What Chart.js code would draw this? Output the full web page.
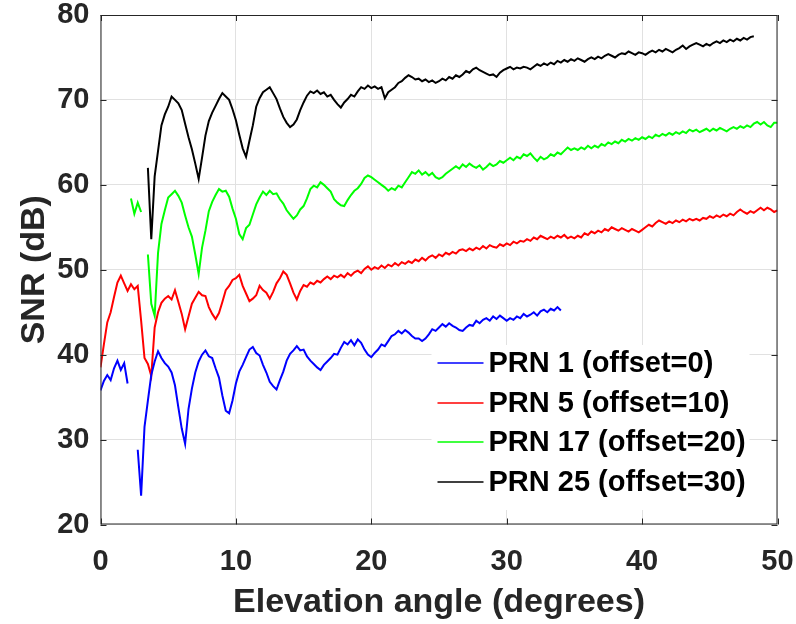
<!DOCTYPE html>
<html>
<head>
<meta charset="utf-8">
<script src="https://cdn.jsdelivr.net/npm/chart.js@4.4.1/dist/chart.umd.min.js"></script>
<style>
  html, body { margin: 0; padding: 0; background: #fff; }
  #snr { display: block; }
</style>
</head>
<body>
<canvas id="snr" width="796" height="624"></canvas>
<script>
// elevation grid (degrees), one sample every 0.25 deg
const elevation = [
  0, 0.25, 0.5, 0.75, 1, 1.25, 1.5, 1.75, 2, 2.25, 2.5, 2.75, 3, 3.25, 3.5, 3.75, 4, 4.25, 4.5, 4.75,
  5, 5.25, 5.5, 5.75, 6, 6.25, 6.5, 6.75, 7, 7.25, 7.5, 7.75, 8, 8.25, 8.5, 8.75, 9, 9.25, 9.5, 9.75,
  10, 10.25, 10.5, 10.75, 11, 11.25, 11.5, 11.75, 12, 12.25, 12.5, 12.75, 13, 13.25, 13.5, 13.75, 14, 14.25, 14.5, 14.75,
  15, 15.25, 15.5, 15.75, 16, 16.25, 16.5, 16.75, 17, 17.25, 17.5, 17.75, 18, 18.25, 18.5, 18.75, 19, 19.25, 19.5, 19.75,
  20, 20.25, 20.5, 20.75, 21, 21.25, 21.5, 21.75, 22, 22.25, 22.5, 22.75, 23, 23.25, 23.5, 23.75, 24, 24.25, 24.5, 24.75,
  25, 25.25, 25.5, 25.75, 26, 26.25, 26.5, 26.75, 27, 27.25, 27.5, 27.75, 28, 28.25, 28.5, 28.75, 29, 29.25, 29.5, 29.75,
  30, 30.25, 30.5, 30.75, 31, 31.25, 31.5, 31.75, 32, 32.25, 32.5, 32.75, 33, 33.25, 33.5, 33.75, 34, 34.25, 34.5, 34.75,
  35, 35.25, 35.5, 35.75, 36, 36.25, 36.5, 36.75, 37, 37.25, 37.5, 37.75, 38, 38.25, 38.5, 38.75, 39, 39.25, 39.5, 39.75,
  40, 40.25, 40.5, 40.75, 41, 41.25, 41.5, 41.75, 42, 42.25, 42.5, 42.75, 43, 43.25, 43.5, 43.75, 44, 44.25, 44.5, 44.75,
  45, 45.25, 45.5, 45.75, 46, 46.25, 46.5, 46.75, 47, 47.25, 47.5, 47.75, 48, 48.25, 48.5, 48.75, 49, 49.25, 49.5, 49.75, 50
];

// SNR (dB) per satellite, already offset; null = no track
const prn1 = [
  35.8, 36.9, 37.6, 37.0, 38.4, 39.3, 38.2, 39.0, 36.6, null, null, 28.8, 23.4, 31.5, 34.6, 37.6, 39.2, 40.4, 39.6, 39.0,
  38.6, 37.9, 36.4, 33.8, 31.3, 29.5, 33.6, 36.0, 37.9, 39.2, 40.0, 40.5, 39.8, 39.6, 38.4, 37.3, 35.2, 33.4, 33.1, 34.6,
  36.6, 38.0, 38.8, 39.7, 40.6, 40.9, 40.2, 39.9, 38.8, 37.9, 36.8, 36.3, 35.9, 37.0, 38.0, 39.3, 40.1, 40.5, 41.0, 40.5,
  40.6, 39.8, 39.3, 38.9, 38.5, 38.2, 38.8, 39.2, 39.6, 40.1, 40.0, 40.8, 41.5, 41.2, 41.7, 41.1, 41.8, 41.4, 40.6, 40.0,
  39.7, 40.2, 40.6, 41.2, 41.0, 41.6, 42.2, 42.4, 42.8, 42.5, 42.9, 42.6, 42.2, 41.9, 41.9, 41.6, 41.9, 42.4, 43.0, 42.8,
  43.2, 43.6, 43.3, 43.7, 43.4, 43.2, 42.9, 42.8, 43.2, 43.5, 43.4, 44.0, 43.7, 44.1, 44.3, 44.0, 44.5, 44.2, 44.6, 44.3,
  44.0, 44.3, 44.1, 44.5, 44.3, 44.8, 44.5, 44.7, 45.0, 44.6, 45.1, 45.3, 45.0, 45.4, 45.2, 45.6, 45.2
];
const prn5 = [
  38.5, 41.2, 43.8, 45.0, 46.8, 48.5, 49.3, 48.4, 47.5, 48.3, 47.7, 48.1, 44.0, 39.6, 38.9, 37.5, 43.2, 45.0, 46.1, 46.6,
  46.9, 46.5, 47.6, 46.2, 44.8, 43.0, 44.5, 46.0, 46.7, 47.4, 47.0, 46.9, 45.6, 44.8, 44.2, 44.9, 46.2, 47.6, 48.1, 48.8,
  49.0, 49.4, 48.1, 47.2, 46.3, 46.6, 47.0, 48.1, 47.6, 47.3, 46.6, 47.4, 48.4, 49.0, 49.8, 49.4, 48.4, 47.3, 46.5, 47.5,
  48.2, 48.0, 48.5, 48.3, 48.7, 48.5, 48.9, 49.2, 48.9, 49.3, 49.1, 49.4, 49.1, 49.6, 49.3, 49.7, 49.9, 49.6, 50.1, 50.4,
  50.0, 50.3, 50.1, 50.5, 50.2, 50.6, 50.4, 50.8, 50.5, 50.9, 50.7, 51.0, 50.8, 51.2, 51.0, 51.4, 51.1, 51.5, 51.7, 51.4,
  51.8, 51.6, 52.0, 51.8, 52.1, 51.9, 52.3, 52.4, 52.2, 52.5, 52.3, 52.6, 52.4, 52.8, 52.5, 52.9, 52.7, 52.6, 53.0, 52.8,
  53.1, 52.9, 53.3, 53.1, 53.4, 53.3, 53.6, 53.4, 53.8, 53.6, 54.0, 53.8, 53.6, 53.9, 53.7, 54.0, 53.8, 54.1, 53.7, 53.9,
  53.7, 54.0, 53.8, 54.3, 54.1, 54.5, 54.3, 54.6, 54.4, 54.8, 54.6, 55.0, 54.8, 54.6, 54.9, 54.7, 54.5, 54.8, 54.6, 54.4,
  54.7, 55.0, 55.3, 55.1, 55.5, 55.8, 55.6, 55.4, 55.7, 55.5, 55.8, 55.6, 55.9, 55.7, 56.0, 55.8, 56.0, 55.8, 56.1, 56.0,
  56.3, 56.1, 56.4, 56.2, 56.5, 56.3, 56.6, 56.4, 56.8, 57.1, 56.8, 56.6, 56.9, 56.7, 57.0, 57.3, 57.0, 57.3, 57.1, 56.8, 57.0
];
const prn17 = [
  null, null, null, null, null, null, null, null, null, 58.4, 56.6, 57.9, 56.8, null, 51.8, 46.0, 44.6, 52.0, 55.4, 57.0,
  58.5, 58.9, 59.3, 58.7, 57.9, 56.4, 55.0, 53.9, 51.8, 49.5, 52.6, 54.6, 56.9, 58.0, 58.8, 59.5, 59.2, 59.3, 58.6, 57.2,
  56.0, 54.2, 53.6, 54.9, 55.3, 56.5, 57.7, 58.5, 59.2, 58.8, 59.3, 58.9, 59.0, 58.3, 57.8, 57.0, 56.5, 56.0, 56.4, 57.1,
  57.5, 58.4, 59.5, 59.9, 59.7, 60.3, 60.0, 59.6, 59.2, 58.3, 57.9, 57.6, 57.5, 58.2, 58.8, 59.3, 59.6, 60.1, 60.8, 61.1,
  60.9, 60.6, 60.3, 60.0, 59.7, 59.3, 59.6, 59.4, 59.9, 59.7, 60.3, 60.9, 61.5, 61.3, 61.7, 61.2, 61.5, 61.1, 61.4, 60.9,
  60.7, 60.9, 61.3, 61.6, 61.9, 62.2, 61.9, 62.4, 62.1, 62.5, 62.2, 62.0, 62.3, 61.8, 62.1, 62.5, 62.2, 62.4, 62.8, 62.6,
  62.9, 63.2, 62.9, 63.3, 63.1, 63.6, 63.4, 63.7, 63.2, 62.8, 63.3, 63.0, 63.2, 63.6, 63.4, 63.8, 63.6, 64.0, 64.4, 64.1,
  64.3, 64.1, 64.4, 64.2, 64.6, 64.3, 64.6, 64.4, 64.8, 64.6, 65.0, 64.8, 65.1, 64.9, 65.3, 65.1, 65.4, 65.2, 65.5, 65.3,
  65.6, 65.4, 65.7, 65.5, 65.9, 65.7, 66.0, 65.8, 66.1, 65.9, 66.2, 66.0, 66.3, 66.1, 66.5, 66.3, 66.5, 66.2, 66.4, 66.6,
  66.3, 66.6, 66.4, 66.7, 66.5, 66.3, 66.6, 66.8, 66.6, 66.9, 66.7, 67.0, 66.8, 67.2, 67.4, 67.1, 67.4, 67.0, 66.8, 67.3, 67.3
];
const prn25 = [
  null, null, null, null, null, null, null, null, null, null, null, null, null, null, 62.0, 53.6, 61.0, 64.0, 67.0, 68.3,
  69.2, 70.4, 70.0, 69.6, 68.8, 67.2, 65.6, 64.2, 62.5, 60.7, 63.2, 65.8, 67.5, 68.5, 69.3, 70.1, 70.8, 70.4, 70.0, 68.9,
  67.6, 65.9, 64.3, 63.3, 65.2, 67.0, 69.2, 70.2, 70.9, 71.2, 71.5, 70.8, 70.1, 69.0, 68.0, 67.3, 66.8, 67.1, 67.7, 68.8,
  69.7, 70.5, 71.0, 70.8, 71.1, 70.7, 70.9, 70.4, 70.6, 70.0, 69.5, 69.1, 69.7, 70.1, 70.6, 70.4, 71.0, 71.5, 71.3, 71.7,
  71.4, 71.6, 71.3, 71.5, 70.2, 70.9, 71.2, 71.5, 72.0, 72.2, 72.6, 72.9, 72.7, 72.4, 72.5, 72.2, 72.4, 72.1, 72.3, 72.0,
  72.2, 72.5, 72.3, 72.7, 72.5, 72.9, 72.7, 73.0, 73.4, 73.2, 73.6, 73.8, 73.5, 73.3, 73.1, 72.9, 73.0, 72.7, 73.2, 73.5,
  73.7, 73.9, 73.6, 73.8, 73.7, 73.9, 73.8, 73.6, 73.9, 74.2, 74.0, 74.3, 74.1, 74.4, 74.2, 74.6, 74.4, 74.7, 74.5, 74.8,
  74.6, 74.9, 74.7, 74.5, 74.8, 75.0, 74.8, 75.1, 74.9, 75.2, 75.4, 75.2, 75.0, 75.3, 75.5, 75.4, 75.7, 75.5, 75.3, 75.6,
  75.5, 75.3, 75.6, 75.8, 75.6, 75.9, 75.7, 76.0, 75.8, 75.6, 75.9, 76.1, 76.4, 76.0, 76.3, 76.5, 76.7, 76.5, 76.3, 76.6,
  76.4, 76.7, 76.9, 76.7, 77.0, 76.8, 77.1, 76.9, 77.2, 77.0, 77.3, 77.1, 77.4, 77.5
];

const seriesLabels = ['PRN 1 (offset=0)', 'PRN 5 (offset=10)', 'PRN 17 (offset=20)', 'PRN 25 (offset=30)'];
const seriesColors = ['#0000ff', '#ff0000', '#00ff00', '#000000'];
const xTicks = [0, 10, 20, 30, 40, 50];
const yTicks = [20, 30, 40, 50, 60, 70, 80];

const axisColor = '#262626';
const fontFamily = '"Liberation Sans", Arial, Helvetica, sans-serif';

function toPoints(values) {
  return values.map((v, i) => ({ x: elevation[i], y: v }));
}

// keep the plot box fixed: no extra room for overhanging tick labels
function noLabelPadding(scale) {
  scale.paddingLeft = 0;
  scale.paddingRight = 0;
  scale.paddingTop = 0;
  scale.paddingBottom = 0;
}

// box around the axes with inward ticks (matlab style)
const framePlugin = {
  id: 'frame',
  afterDatasetsDraw(chart) {
    const { ctx, chartArea: a, scales } = chart;
    const len = 6;
    ctx.save();
    ctx.strokeStyle = axisColor;
    ctx.lineWidth = 1;
    ctx.strokeRect(a.left + 0.5, a.top + 0.5, a.right - a.left - 1, a.bottom - a.top - 1);
    ctx.beginPath();
    xTicks.forEach(v => {
      const px = Math.round(scales.x.getPixelForValue(v)) + 0.5;
      ctx.moveTo(px, a.bottom); ctx.lineTo(px, a.bottom - len);
      ctx.moveTo(px, a.top); ctx.lineTo(px, a.top + len);
    });
    yTicks.forEach(v => {
      const py = Math.round(scales.y.getPixelForValue(v)) + 0.5;
      ctx.moveTo(a.left, py); ctx.lineTo(a.left + len, py);
      ctx.moveTo(a.right, py); ctx.lineTo(a.right - len, py);
    });
    ctx.stroke();
    ctx.restore();
  }
};

// legend inside the axes, lower right
const legendPlugin = {
  id: 'insideLegend',
  afterDraw(chart) {
    const { ctx, chartArea: a } = chart;
    const left = a.left + 331, top = a.top + 330;
    const rowH = 39.5;
    ctx.save();
    ctx.fillStyle = '#ffffff';
    ctx.fillRect(left, top, 318, 165);
    ctx.font = 'bold 29px ' + fontFamily;
    ctx.textBaseline = 'middle';
    seriesLabels.forEach((label, i) => {
      const y = Math.round(top + 18 + i * rowH);
      ctx.beginPath();
      ctx.strokeStyle = seriesColors[i];
      ctx.lineWidth = 1.5;
      ctx.moveTo(left + 6, y);
      ctx.lineTo(left + 52, y);
      ctx.stroke();
      ctx.fillStyle = '#000000';
      ctx.fillText(label, left + 57, y + 1);
    });
    ctx.restore();
  }
};

const snrData = {
  datasets: [prn1, prn5, prn17, prn25].map((vals, i) => ({
    label: seriesLabels[i],
    data: toPoints(vals),
    borderColor: seriesColors[i],
    backgroundColor: seriesColors[i],
    borderWidth: 2,
    pointRadius: 0,
    tension: 0,
    spanGaps: false
  }))
};

const snrConfig = {
  type: 'line',
  data: snrData,
  options: {
    responsive: false,
    animation: false,
    layout: { padding: { top: 15, right: 18.5, left: 0, bottom: 0 } },
    scales: {
      x: {
        type: 'linear',
        min: 0,
        max: 50,
        afterFit: (scale) => { scale.height = 99.5; noLabelPadding(scale); },
        afterBuildTicks: (scale) => { scale.ticks = xTicks.map(v => ({ value: v })); },
        grid: { color: '#e1e1e1', drawTicks: false },
        border: { display: false },
        ticks: {
          padding: 20,
          color: axisColor,
          font: { family: fontFamily, size: 29, weight: 'bold' }
        },
        title: {
          display: true,
          text: 'Elevation angle (degrees)',
          color: axisColor,
          padding: { top: 0, bottom: 1 },
          font: { family: fontFamily, size: 34, weight: 'bold' }
        }
      },
      y: {
        min: 20,
        max: 80,
        afterFit: (scale) => { scale.width = 100.5; noLabelPadding(scale); },
        afterBuildTicks: (scale) => { scale.ticks = yTicks.map(v => ({ value: v })); },
        grid: { color: '#e1e1e1', drawTicks: false },
        border: { display: false },
        ticks: {
          padding: 11,
          color: axisColor,
          font: { family: fontFamily, size: 29, weight: 'bold' }
        },
        title: {
          display: true,
          text: 'SNR (dB)',
          color: axisColor,
          padding: { top: 14, bottom: 0 },
          font: { family: fontFamily, size: 34, weight: 'bold' }
        }
      }
    },
    plugins: {
      legend: { display: false },
      tooltip: { enabled: false }
    }
  },
  plugins: [framePlugin, legendPlugin]
};

new Chart('snr', snrConfig);
</script>
</body>
</html>
